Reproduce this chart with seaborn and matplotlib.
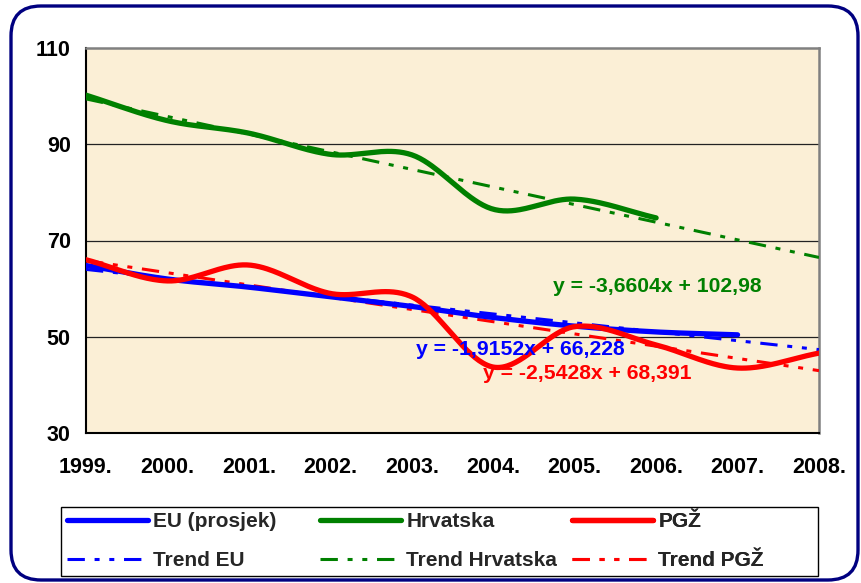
import numpy as np
import pandas as pd
import matplotlib
matplotlib.use("Agg")
import matplotlib.pyplot as plt
from matplotlib.lines import Line2D
from matplotlib.patches import FancyBboxPatch, Rectangle
import seaborn as sns

# ---------------- data ----------------
years = ["1999.", "2000.", "2001.", "2002.", "2003.", "2004.", "2005.", "2006.", "2007.", "2008."]
eu_values = [64.8, 62.0, 60.3, 58.3, 56.3, 54.0, 52.2, 51.0, 50.4]            # 1999-2007
hr_values = [100.2, 94.9, 92.3, 87.9, 87.8, 76.5, 78.6, 74.7]                 # 1999-2006
pgz_values = [66.0, 61.6, 64.9, 59.0, 58.3, 43.7, 52.1, 48.3, 43.5, 46.6]     # 1999-2008
series_names = ["EU (prosjek)", "Hrvatska", "PGŽ"]
trend_names = ["Trend EU", "Trend Hrvatska", "Trend PGŽ"]
equations = ["y = -1,9152x + 66,228", "y = -3,6604x + 102,98", "y = -2,5428x + 68,391"]
y_ticks = [30, 50, 70, 90, 110]

colors = ["#0000FF", "#008000", "#FF0000"]

sns.set_style("white")
plt.rcParams["font.family"] = ["Liberation Sans", "DejaVu Sans"]
plt.rcParams["font.weight"] = "bold"
plt.rcParams["lines.scale_dashes"] = False

W, H = 861, 583
fig = plt.figure(figsize=(W / 100, H / 100), dpi=100)
fig.patch.set_facecolor("white")

# plot area in pixels
L, R, T, B = 86, 819, 48, 433
ax = fig.add_axes([L / W, 1 - B / H, (R - L) / W, (B - T) / H])
ax.set_facecolor("#FBEFD6")


def smooth(vals, n=40):
    """Excel-style smoothed line (Catmull-Rom / Bezier) through the points."""
    p = np.asarray(vals, dtype=float)
    k = len(p)
    xs, ys = [], []
    for i in range(k - 1):
        m0 = (p[i + 1] - p[i - 1]) / 2 if i > 0 else (p[i + 1] - p[i])
        m1 = (p[i + 2] - p[i]) / 2 if i + 2 < k else (p[i + 1] - p[i])
        t = np.linspace(0, 1, n, endpoint=(i == k - 2))
        h00 = 2 * t**3 - 3 * t**2 + 1
        h10 = t**3 - 2 * t**2 + t
        h01 = -2 * t**3 + 3 * t**2
        h11 = t**3 - t**2
        xs.append(i + t)
        ys.append(h00 * p[i] + h10 * m0 + h01 * p[i + 1] + h11 * m1)
    return np.concatenate(xs), np.concatenate(ys)


dash = (0, (12.5, 7.0, 3.6, 7.0, 3.6, 7.0))
all_series = [eu_values, hr_values, pgz_values]

# trend lines (linear fit of x = 1..n), extended to 2008
for vals, c in zip(all_series, colors):
    xi = np.arange(1, len(vals) + 1)
    a, b = np.polyfit(xi, vals, 1)
    xt = np.array([1, len(years)])
    df_t = pd.DataFrame({"x": xt - 1, "y": a * xt + b})
    sns.lineplot(data=df_t, x="x", y="y", ax=ax, color=c, lw=2.2,
                 linestyle=dash, zorder=3)

# smoothed data lines
for vals, c in zip(all_series, colors):
    sx, sy = smooth(vals)
    df_s = pd.DataFrame({"x": sx, "y": sy})
    sns.lineplot(data=df_s, x="x", y="y", ax=ax, color=c, lw=3.8,
                 zorder=4, sort=False, solid_capstyle="round")

ax.set_xlim(0, len(years) - 1)
ax.set_ylim(30, 110)
ax.set_xticks(range(len(years)))
ax.set_xticklabels(years)
ax.set_yticks(y_ticks)
ax.set_xlabel("")
ax.set_ylabel("")
ax.tick_params(axis="both", labelsize=15.5, colors="black", direction="out",
               length=5, width=1.5)
ax.tick_params(axis="x", pad=12)
ax.tick_params(axis="y", pad=6)
for lbl in ax.get_xticklabels() + ax.get_yticklabels():
    lbl.set_fontweight("bold")

for yv in [50, 70, 90]:
    ax.axhline(yv, color="#222222", lw=0.9, zorder=1)

for s in ["left", "bottom"]:
    ax.spines[s].set_color("black")
    ax.spines[s].set_linewidth(1.5)
for s in ["top", "right"]:
    ax.spines[s].set_color("#808080")
    ax.spines[s].set_linewidth(1.8)

# equations
eq_pos = [(4.05, 47.3), (5.73, 60.5), (4.87, 42.4)]
for (ex, ey), txt, c in zip(eq_pos, equations, colors):
    ax.text(ex, ey, txt, color=c, fontsize=15.2, fontweight="bold",
            ha="left", va="center", zorder=6)

# ---------------- overlay: border and legend ----------------
ov = fig.add_axes([0, 0, 1, 1], zorder=5)
ov.set_xlim(0, W)
ov.set_ylim(H, 0)
ov.axis("off")
ov.patch.set_visible(False)

border = FancyBboxPatch((11, 6), 847, 574, boxstyle="round,pad=0,rounding_size=30",
                        fill=False, edgecolor="#000080", lw=2.4)
ov.add_patch(border)

ov.add_patch(Rectangle((61, 507), 757, 69, fill=True, facecolor="white",
                       edgecolor="black", lw=1.0))

col_x = [67, 320, 572]
for i in range(3):
    handles = [Line2D([], [], color=colors[i], lw=3.8, solid_capstyle="round"),
               Line2D([], [], color=colors[i], lw=2.2, linestyle=dash)]
    leg = ov.legend(handles, [series_names[i], trend_names[i]],
                    loc="upper left", bbox_to_anchor=(col_x[i], 512),
                    bbox_transform=ov.transData, frameon=False,
                    borderpad=0, borderaxespad=0, handlelength=3.9,
                    handletextpad=0.25, labelspacing=0.95,
                    prop={"size": 15, "weight": "bold"})
    ov.add_artist(leg)

fig.savefig("out.png", dpi=100)
